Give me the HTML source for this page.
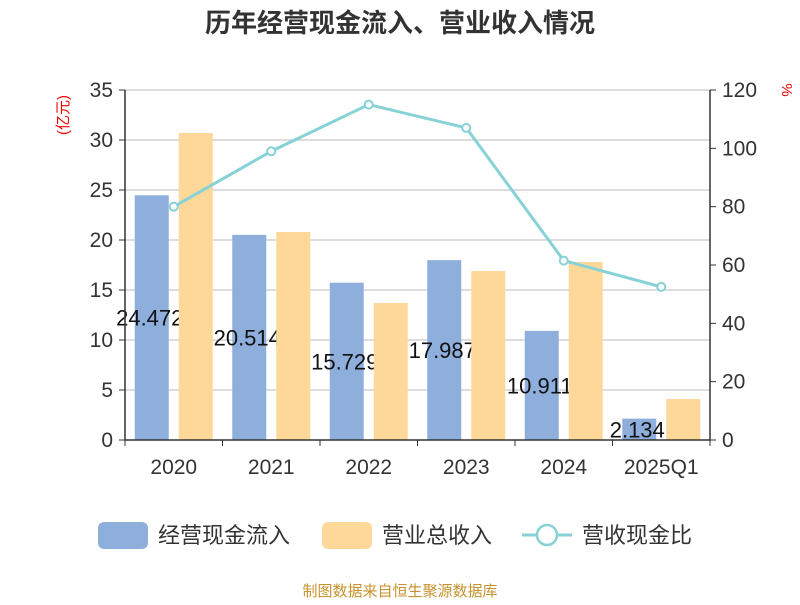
<!DOCTYPE html>
<html><head><meta charset="utf-8"><style>
body{margin:0;background:#fff;}
svg text{font-family:"Liberation Sans","Noto Sans CJK SC",sans-serif;}
</style></head><body>
<svg id="c" width="800" height="600" xmlns="http://www.w3.org/2000/svg">
<text x="400" y="32" text-anchor="middle" font-size="26" font-weight="bold" fill="#333">历年经营现金流入、营业收入情况</text>
<text transform="translate(68,115) rotate(-90)" text-anchor="middle" font-size="15" fill="#e00">(亿元)</text>
<text transform="translate(782,90) rotate(90)" text-anchor="middle" font-size="15" fill="#e00">%</text>
<g id="grid"></g><g id="bars"></g><g id="labels"></g><g id="line"></g><g id="axes"></g>
<g>
<rect x="98" y="522" width="50" height="27" rx="6" fill="#8eaedb"/>
<text x="158" y="543" font-size="22" fill="#333">经营现金流入</text>
<rect x="322" y="522" width="50" height="27" rx="6" fill="#fed899"/>
<text x="382" y="543" font-size="22" fill="#333">营业总收入</text>
<line x1="522" y1="535" x2="572" y2="535" stroke="#86d2d6" stroke-width="3"/>
<circle cx="547" cy="535" r="10" fill="#fff" stroke="#86d2d6" stroke-width="2.5"/>
<text x="582" y="543" font-size="22" fill="#333">营收现金比</text>
</g>
<text x="400" y="596" text-anchor="middle" font-size="15" fill="#c8922c">制图数据来自恒生聚源数据库</text>
</svg>
<script>
const categories=["2020","2021","2022","2023","2024","2025Q1"];
const cashInflow=[24.472,20.514,15.729,17.987,10.911,2.134];
const revenue=[30.7,20.8,13.7,16.9,17.8,4.1];
const ratio=[80,99,115,107,61.5,52.5];
const leftTicks=[0,5,10,15,20,25,30,35];
const rightTicks=[0,20,40,60,80,100,120];
const NS="http://www.w3.org/2000/svg";
const X0=125,X1=710,Y0=440,Y1=90;
const band=(X1-X0)/categories.length;
const xc=i=>X0+band*(i+0.5);
const yL=v=>Y0-(v/35)*(Y0-Y1);
const yR=v=>Y0-(v/120)*(Y0-Y1);
function mk(tag,attrs,parent,txt){const e=document.createElementNS(NS,tag);for(const k in attrs)e.setAttribute(k,attrs[k]);if(txt!==undefined)e.textContent=txt;document.getElementById(parent).appendChild(e);return e;}
leftTicks.forEach(t=>{
 if(t>0){const g=mk('line',{x1:X0,x2:X1,y1:yL(t),y2:yL(t),stroke:'#bbb','stroke-width':1},'grid');
 
 }
 const l=mk('text',{x:X0-12,y:yL(t)+7,'text-anchor':'end','font-size':21,fill:'#333'},'axes',String(t));
 
 
 const tk=mk('line',{x1:X0-6,x2:X0,y1:yL(t),y2:yL(t),stroke:'#333'},'axes');
 
 
});
rightTicks.forEach(t=>{
 const l=mk('text',{x:X1+12,y:yR(t)+7,'font-size':21,fill:'#333'},'axes',String(t));
 
 
 const tk=mk('line',{x1:X1,x2:X1+6,y1:yR(t),y2:yR(t),stroke:'#333'},'axes');
 
 
});
categories.forEach((c,i)=>{
 const cx=xc(i);
 const b=mk('rect',{x:cx-39,y:yL(cashInflow[i]),width:34,height:Y0-yL(cashInflow[i]),fill:'#8eaedb'},'bars');
 
 
 const lb=mk('text',{x:cx-24,y:(yL(cashInflow[i])+Y0)/2+8,'text-anchor':'middle','font-size':22,fill:'#111'},'bars',cashInflow[i].toFixed(3));
 
 
 const r=mk('rect',{x:cx+5,y:yL(revenue[i]),width:34,height:Y0-yL(revenue[i]),fill:'#fed899'},'bars');
 
 
 const xl=mk('text',{x:cx,y:Y0+34,'text-anchor':'middle','font-size':21,fill:'#333'},'axes',c);
 
 
 const xt=mk('line',{x1:X0+band*i,x2:X0+band*i,y1:Y0,y2:Y0+6,stroke:'#333'},'axes');
 
 
});
const lastTick=mk('line',{x1:X1,x2:X1,y1:Y0,y2:Y0+6,stroke:'#333'},'axes');


const ax=mk('path',{d:`M${X0},${Y1}V${Y0}H${X1}V${Y1}`,fill:'none',stroke:'#333','stroke-width':1.5},'axes');


const pl=mk('polyline',{points:ratio.map((v,i)=>xc(i)+','+yR(v)).join(' '),fill:'none',stroke:'#86d2d6','stroke-width':3},'line');


ratio.forEach((v,i)=>{
 const p=mk('circle',{cx:xc(i),cy:yR(v),r:4,fill:'#fff',stroke:'#86d2d6','stroke-width':2},'line');
 
 
});
</script>
</body></html>
